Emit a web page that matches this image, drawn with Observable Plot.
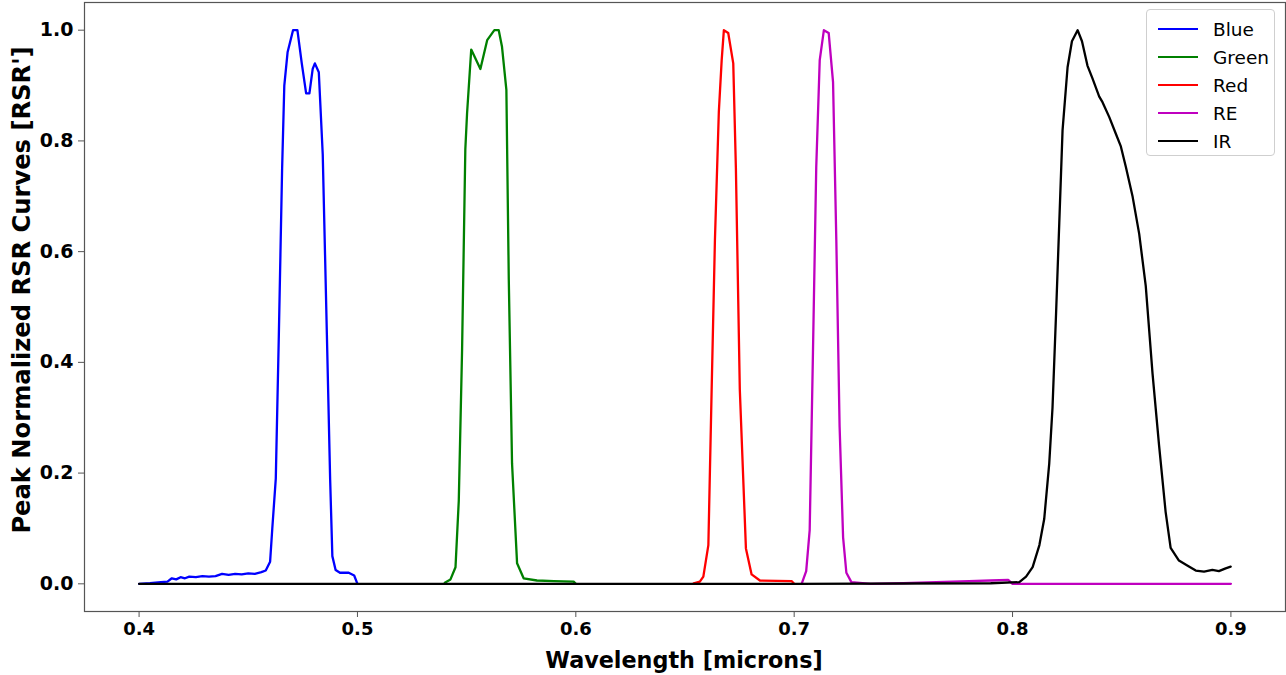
<!DOCTYPE html>
<html>
<head>
<meta charset="utf-8">
<script src="https://cdn.jsdelivr.net/npm/d3@7"></script>
<script src="https://cdn.jsdelivr.net/npm/@observablehq/plot@0.6"></script>
<style>
  body { margin: 0; background: #fff; }
  #wrap { position: relative; width: 1286px; height: 675px; overflow: hidden; }
  #legend { position: absolute; left: 1146px; top: 9px; width: 129px; height: 147px; box-sizing: border-box;
            border: 1px solid #cfcfcf; border-radius: 4px; background: rgba(255,255,255,0.85);
            font-family: "DejaVu Sans", sans-serif; font-size: 18.5px; color: #000; }
  .row { position: absolute; left: 0; height: 28px; display: flex; align-items: center; }
  .sw { width: 40px; height: 2.5px; margin-left: 11px; margin-right: 15px; }
  .ylab { position: absolute; left: 22px; top: 290px; transform: translate(-50%, -50%) rotate(-90deg);
          white-space: nowrap; font-family: "DejaVu Sans", sans-serif; font-weight: bold; font-size: 24.2px; }
  .xlab { position: absolute; left: 684px; top: 660px; transform: translate(-50%, -50%);
          white-space: nowrap; font-family: "DejaVu Sans", sans-serif; font-weight: bold; font-size: 22.3px; }
</style>
</head>
<body>
<div id="wrap"></div>
<script>
// ---- data ----
const seriesNames = ["Blue", "Green", "Red", "RE", "IR"];
const seriesColors = ["#0000ff", "#008000", "#ff0000", "#bf00bf", "#000000"];

const blueWl = [0.400,0.405,0.410,0.413,0.415,0.417,0.419,0.421,0.423,0.426,0.429,0.432,0.435,0.438,0.441,0.444,0.447,0.450,0.453,0.456,0.458,0.460,0.461,0.4626,0.464,0.4655,0.4665,0.468,0.4705,0.4725,0.4745,0.4765,0.478,0.4795,0.4805,0.4823,0.4841,0.486,0.4875,0.4885,0.490,0.492,0.496,0.4985,0.500];
const blueRsr = [0,0.001,0.003,0.004,0.010,0.008,0.012,0.010,0.013,0.012,0.014,0.013,0.014,0.018,0.016,0.018,0.017,0.019,0.018,0.021,0.024,0.040,0.100,0.19,0.45,0.75,0.90,0.96,1.0,1.0,0.94,0.886,0.886,0.93,0.94,0.924,0.776,0.45,0.188,0.05,0.025,0.02,0.02,0.015,0];

const greenWl = [0.5400,0.5426,0.5449,0.5464,0.5479,0.5494,0.5502,0.5521,0.5563,0.5594,0.5627,0.5647,0.5662,0.5682,0.5693,0.5708,0.5731,0.5761,0.5822,0.590,0.599,0.600];
const greenRsr = [0.002,0.008,0.03,0.15,0.42,0.785,0.85,0.965,0.93,0.982,1.0,1.0,0.97,0.892,0.55,0.217,0.037,0.01,0.006,0.005,0.004,0];

const redWl = [0.6540,0.6568,0.6584,0.6607,0.6622,0.6637,0.6655,0.6668,0.6678,0.6698,0.6721,0.6733,0.6751,0.6779,0.6805,0.6843,0.6988,0.700];
const redRsr = [0.001,0.004,0.013,0.07,0.35,0.62,0.853,0.946,1.0,0.995,0.94,0.752,0.351,0.064,0.017,0.006,0.005,0];

const reWl = [0.7035,0.7055,0.7071,0.7086,0.7101,0.7117,0.7136,0.7158,0.7178,0.7193,0.7208,0.7224,0.7239,0.7262,0.735,0.750,0.765,0.780,0.790,0.798,0.800,0.850,0.900];
const reRsr = [0.001,0.023,0.097,0.418,0.752,0.946,1.0,0.995,0.906,0.62,0.284,0.084,0.02,0.003,0,0.001,0.003,0.005,0.006,0.007,0,0,0];

const irWl = [0.400,0.500,0.600,0.700,0.790,0.8031,0.8062,0.8092,0.8123,0.8145,0.8168,0.8183,0.8199,0.8214,0.8229,0.8252,0.8272,0.8298,0.8318,0.8343,0.8366,0.8397,0.8412,0.8443,0.8473,0.8496,0.8519,0.855,0.858,0.861,0.8641,0.8671,0.8701,0.8724,0.8762,0.880,0.8839,0.8877,0.8915,0.8945,0.8976,0.8999];
const irRsr = [0,0,0,0,0.001,0.003,0.013,0.03,0.07,0.117,0.217,0.318,0.485,0.652,0.819,0.933,0.98,1.0,0.98,0.936,0.913,0.88,0.87,0.843,0.813,0.79,0.753,0.699,0.632,0.538,0.38,0.25,0.13,0.065,0.042,0.033,0.024,0.022,0.025,0.023,0.028,0.031];

const xTicks = [0.4, 0.5, 0.6, 0.7, 0.8, 0.9];
const yTicks = [0.0, 0.2, 0.4, 0.6, 0.8, 1.0];
const xLabel = "Wavelength [microns]";
const yLabel = "Peak Normalized RSR Curves [RSR']";

// ---- build tables ----
const wls = [blueWl, greenWl, redWl, reWl, irWl];
const vals = [blueRsr, greenRsr, redRsr, reRsr, irRsr];
const tables = wls.map((w, i) => w.map((x, j) => ({ band: seriesNames[i], w: x, v: vals[i][j] })));

const chart = Plot.plot({
  width: 1286,
  height: 675,
  marginLeft: 84,
  marginRight: 1,
  marginTop: 2,
  marginBottom: 64,
  x: { domain: [0.375, 0.925] },
  y: { domain: [-0.05, 1.05] },
  style: { background: "white", fontFamily: "DejaVu Sans, sans-serif", color: "#000" },
  marks: [
    ...tables.map((t, i) => Plot.line(t, { x: "w", y: "v", stroke: seriesColors[i], strokeWidth: 2.3 })),
    Plot.frame({ stroke: "#555", strokeWidth: 1.2 }),
    Plot.axisX({ ticks: xTicks, tickFormat: d3.format(".1f"), tickSize: 6, tickPadding: 5, fontSize: 18, fontWeight: "bold", label: null, stroke: "#555" }),
    Plot.axisY({ ticks: yTicks, tickFormat: d3.format(".1f"), tickSize: 6, tickPadding: 5, fontSize: 19, fontWeight: "bold", label: null, stroke: "#555" })
  ]
});

const wrap = document.getElementById("wrap");
wrap.appendChild(chart);

const yl = document.createElement("div"); yl.className = "ylab"; yl.textContent = yLabel; wrap.appendChild(yl);
const xl = document.createElement("div"); xl.className = "xlab"; xl.textContent = xLabel; wrap.appendChild(xl);

const legend = document.createElement("div");
legend.id = "legend";
seriesNames.forEach((name, i) => {
  const row = document.createElement("div");
  row.className = "row";
  row.style.top = (5 + i * 28) + "px";
  const sw = document.createElement("span");
  sw.className = "sw";
  sw.style.background = seriesColors[i];
  const tx = document.createElement("span");
  tx.textContent = name;
  row.appendChild(sw); row.appendChild(tx);
  legend.appendChild(row);
});
wrap.appendChild(legend);
</script>
</body>
</html>
